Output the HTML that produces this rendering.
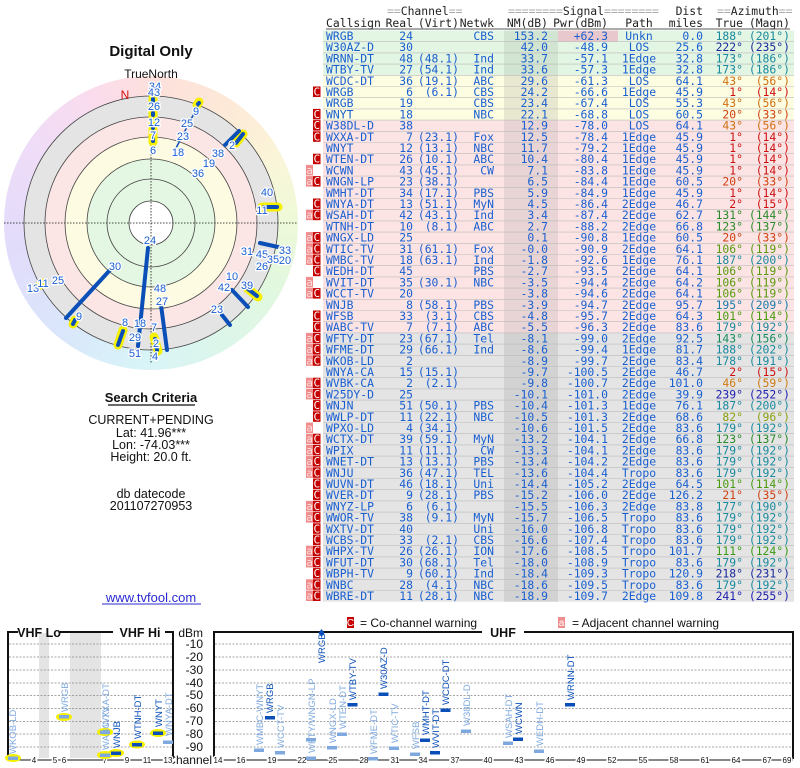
<!DOCTYPE html>
<html><head><meta charset="utf-8"><style>
body{margin:0;background:#fff;width:800px;height:768px;overflow:hidden}
svg{position:absolute;left:0;top:0}
.t{font-family:"DejaVu Sans Mono","Liberation Mono",monospace;font-size:11.4px;fill:#1a5fd0}
.e{text-anchor:end}.m{text-anchor:middle}
.h{font-family:"DejaVu Sans Mono","Liberation Mono",monospace;font-size:11.4px;fill:#222}
.g{fill:#aaa}
.s{font-family:"Liberation Sans",sans-serif}
.pl{font-family:"Liberation Sans",sans-serif;font-size:11px;fill:#1a5fd0;stroke:#fff;stroke-width:2.5px;paint-order:stroke;text-anchor:middle}
.vl{font-family:"Liberation Sans",sans-serif;font-size:9.5px}
.d{fill:#0a4fb8}.l{fill:#7fa9de}
.bd{font-family:"Liberation Sans",sans-serif;font-size:10px;fill:#fff;text-anchor:middle}
.bc{font-family:"DejaVu Sans Mono",monospace;font-size:11px;fill:#fff;text-anchor:middle}
.ba{font-family:"DejaVu Sans Mono",monospace;font-size:11px;fill:#ffe0e0;text-anchor:middle}
</style></head><body>
<div style="position:absolute;left:4px;top:76px;width:294px;height:294px;border-radius:50%;background:conic-gradient(#fde0dc 0deg,#fde8d8 30deg,#fbf4d8 60deg,#f0f9d8 85deg,#e2f8de 115deg,#dcf6ea 150deg,#d8f4f8 185deg,#dae6fb 220deg,#e2dcfb 260deg,#eedcf8 300deg,#fadcee 335deg,#fde0dc 360deg)"></div>
<svg width="800" height="768" viewBox="0 0 800 768">
<text x="151" y="56" class="s m" font-size="15" font-weight="bold" fill="#111">Digital Only</text>
<text x="151" y="78" class="s m" font-size="12" fill="#111">TrueNorth</text>
<g transform="translate(151,223)" stroke="#444" stroke-width="0.8">
<circle r="127" fill="#e4e4e4"/>
<circle r="106" fill="#fbe5e5"/>
<circle r="86" fill="#fdfbe2"/>
<circle r="64" fill="#e4f7e2"/>
<circle r="44" fill="#e4f7e2"/>
<circle r="22" fill="#fff"/>
</g>
<line x1="4" y1="223" x2="298" y2="223" stroke="#111" stroke-width="0.8" stroke-dasharray="1.5,1.5"/>
<line x1="151" y1="82" x2="151" y2="364" stroke="#111" stroke-width="0.8" stroke-dasharray="1.5,1.5"/>
<text x="125" y="99" class="s m" font-size="12" fill="#d01010">N</text>
<g stroke-linecap="round" fill="none">
<g stroke="#f5f000" stroke-width="9">
<line x1="153" y1="98" x2="153" y2="142"/>
<line x1="197" y1="105" x2="199" y2="102"/>
<line x1="236" y1="143" x2="243" y2="134"/>
<line x1="262" y1="207" x2="278" y2="207"/>
<line x1="247" y1="288" x2="258" y2="297"/>
<line x1="118" y1="345" x2="123" y2="330"/>
<line x1="73" y1="324" x2="75" y2="320"/>
<line x1="154" y1="337" x2="158" y2="351"/>
<line x1="40" y1="285" x2="43" y2="283"/>
</g>
<g stroke="#0a4fb8" stroke-width="4">
<line x1="148" y1="248" x2="138" y2="346"/>
<line x1="110" y1="270" x2="66" y2="318"/>
<line x1="161" y1="305" x2="167" y2="350"/>
<line x1="225" y1="145" x2="239" y2="131"/>
<line x1="232" y1="290" x2="248" y2="307"/>
<line x1="222" y1="315" x2="230" y2="325"/>
<line x1="260" y1="243" x2="278" y2="247"/>
<line x1="236" y1="143" x2="243" y2="134"/>
<line x1="264" y1="207" x2="277" y2="207"/>
<line x1="248" y1="289" x2="257" y2="296"/>
<line x1="118" y1="345" x2="123" y2="331"/>
<line x1="73" y1="324" x2="75" y2="320"/>
<line x1="155" y1="339" x2="157" y2="350"/>
<line x1="153" y1="99" x2="153" y2="101"/>
<line x1="153" y1="113" x2="153" y2="115"/>
<line x1="153" y1="126" x2="153" y2="128"/>
<line x1="153" y1="139" x2="153" y2="141"/>
<line x1="198" y1="104" x2="199" y2="103"/>
</g>
<line x1="175" y1="150" x2="199" y2="104" stroke="#0a4fb8" stroke-width="1.5"/>
</g>
<g class="pl">
<text x="155" y="90">34</text><text x="154" y="96">43</text><text x="154" y="110">26</text><text x="154" y="126">12</text><text x="153" y="139">7</text><text x="153" y="154">6</text>
<text x="196" y="115">9</text><text x="187" y="127">25</text><text x="183" y="140">23</text><text x="178" y="156">18</text>
<text x="232" y="149">2</text><text x="218" y="157">38</text><text x="209" y="167">19</text><text x="198" y="177">36</text>
<text x="267" y="196">40</text><text x="262" y="214">11</text>
<text x="150" y="244">24</text><text x="115" y="270">30</text><text x="160" y="292">48</text><text x="162" y="305">27</text>
<text x="140" y="327">18</text><text x="125" y="326">8</text><text x="135" y="341">29</text><text x="135" y="357">51</text>
<text x="154" y="331">7</text><text x="156" y="347">2</text><text x="155" y="360">4</text>
<text x="79" y="320">9</text><text x="33" y="292">13</text><text x="43" y="287">11</text><text x="58" y="284">25</text>
<text x="217" y="313">23</text><text x="224" y="291">42</text><text x="232" y="280">10</text><text x="247" y="289">39</text>
<text x="262" y="270">26</text><text x="247" y="255">31</text><text x="262" y="258">45</text><text x="273" y="263">35</text><text x="285" y="264">20</text><text x="285" y="254">33</text>
</g>
<text x="151" y="402" class="s m" font-size="13" font-weight="bold" fill="#111">Search Criteria</text>
<line x1="108" y1="405" x2="195" y2="405" stroke="#111" stroke-width="1.2"/>
<g class="s" font-size="12.5" fill="#111" text-anchor="middle">
<text x="151" y="424">CURRENT+PENDING</text>
<text x="151" y="437">Lat: 41.96***</text>
<text x="151" y="449">Lon: -74.03***</text>
<text x="151" y="461">Height: 20.0 ft.</text>
<text x="151" y="498">db datecode</text>
<text x="151" y="510">201107270953</text>
</g>
<text x="151" y="602" class="s m" font-size="13" fill="#2a2ad0">www.tvfool.com</text>
<line x1="102" y1="604" x2="201" y2="604" stroke="#2a2ad0" stroke-width="1"/>

<rect x="323" y="30.5" width="471" height="44.8" fill="#e3f5e3"/>
<rect x="323" y="75.3" width="471" height="44.8" fill="#fdfde2"/>
<rect x="323" y="120.1" width="471" height="212.8" fill="#fce4e4"/>
<rect x="323" y="332.9" width="471" height="268.8" fill="#e4e4e4"/>
<rect x="504" y="30.5" width="54" height="44.8" fill="#d2e4d2"/>
<rect x="504" y="75.3" width="54" height="44.8" fill="#e8e8d0"/>
<rect x="504" y="120.1" width="54" height="212.8" fill="#e8d4d4"/>
<rect x="504" y="332.9" width="54" height="268.8" fill="#d2d2d2"/>
<rect x="558" y="30.5" width="60" height="11.2" fill="#e8c8cc"/>
<g stroke="#bbb" stroke-width="0.6">
<path d="M323 41.7H794M323 52.9H794M323 64.1H794M323 75.3H794M323 86.5H794M323 97.7H794M323 108.9H794M323 120.1H794M323 131.3H794M323 142.5H794M323 153.7H794M323 164.9H794M323 176.1H794M323 187.3H794M323 198.5H794M323 209.7H794M323 220.9H794M323 232.1H794M323 243.3H794M323 254.5H794M323 265.7H794M323 276.9H794M323 288.1H794M323 299.3H794M323 310.5H794M323 321.7H794M323 332.9H794M323 344.1H794M323 355.3H794M323 366.5H794M323 377.7H794M323 388.9H794M323 400.1H794M323 411.3H794M323 422.5H794M323 433.7H794M323 444.9H794M323 456.1H794M323 467.3H794M323 478.5H794M323 489.7H794M323 500.9H794M323 512.1H794M323 523.3H794M323 534.5H794M323 545.7H794M323 556.9H794M323 568.1H794M323 579.3H794M323 590.5H794"/>
</g>
<g fill="#c40000">
<rect x="313" y="86.5" width="7.5" height="10.5"/><rect x="313" y="108.9" width="7.5" height="10.5"/><rect x="313" y="120.1" width="7.5" height="10.5"/><rect x="313" y="131.3" width="7.5" height="10.5"/><rect x="313" y="153.7" width="7.5" height="10.5"/><rect x="313" y="176.1" width="7.5" height="10.5"/><rect x="313" y="198.5" width="7.5" height="10.5"/><rect x="313" y="209.7" width="7.5" height="10.5"/><rect x="313" y="232.1" width="7.5" height="10.5"/><rect x="313" y="243.3" width="7.5" height="10.5"/><rect x="313" y="254.5" width="7.5" height="10.5"/><rect x="313" y="265.7" width="7.5" height="10.5"/><rect x="313" y="288.1" width="7.5" height="10.5"/><rect x="313" y="310.5" width="7.5" height="10.5"/><rect x="313" y="321.7" width="7.5" height="10.5"/><rect x="313" y="332.9" width="7.5" height="10.5"/><rect x="313" y="344.1" width="7.5" height="10.5"/><rect x="313" y="355.3" width="7.5" height="10.5"/><rect x="313" y="377.7" width="7.5" height="10.5"/><rect x="313" y="388.9" width="7.5" height="10.5"/><rect x="313" y="400.1" width="7.5" height="10.5"/><rect x="313" y="411.3" width="7.5" height="10.5"/><rect x="313" y="433.7" width="7.5" height="10.5"/><rect x="313" y="444.9" width="7.5" height="10.5"/><rect x="313" y="456.1" width="7.5" height="10.5"/><rect x="313" y="467.3" width="7.5" height="10.5"/><rect x="313" y="478.5" width="7.5" height="10.5"/><rect x="313" y="489.7" width="7.5" height="10.5"/><rect x="313" y="500.9" width="7.5" height="10.5"/><rect x="313" y="512.1" width="7.5" height="10.5"/><rect x="313" y="523.3" width="7.5" height="10.5"/><rect x="313" y="534.5" width="7.5" height="10.5"/><rect x="313" y="545.7" width="7.5" height="10.5"/><rect x="313" y="556.9" width="7.5" height="10.5"/><rect x="313" y="568.1" width="7.5" height="10.5"/><rect x="313" y="579.3" width="7.5" height="10.5"/><rect x="313" y="590.5" width="7.5" height="10.5"/>
</g>
<g class="bc">
<text x="316.8" y="95.5">C</text><text x="316.8" y="117.9">C</text><text x="316.8" y="129.1">C</text><text x="316.8" y="140.3">C</text><text x="316.8" y="162.7">C</text><text x="316.8" y="185.1">C</text><text x="316.8" y="207.5">C</text><text x="316.8" y="218.7">C</text><text x="316.8" y="241.1">C</text><text x="316.8" y="252.3">C</text><text x="316.8" y="263.5">C</text><text x="316.8" y="274.7">C</text><text x="316.8" y="297.1">C</text><text x="316.8" y="319.5">C</text><text x="316.8" y="330.7">C</text><text x="316.8" y="341.9">C</text><text x="316.8" y="353.1">C</text><text x="316.8" y="364.3">C</text><text x="316.8" y="386.7">C</text><text x="316.8" y="397.9">C</text><text x="316.8" y="409.1">C</text><text x="316.8" y="420.3">C</text><text x="316.8" y="442.7">C</text><text x="316.8" y="453.9">C</text><text x="316.8" y="465.1">C</text><text x="316.8" y="476.3">C</text><text x="316.8" y="487.5">C</text><text x="316.8" y="498.7">C</text><text x="316.8" y="509.9">C</text><text x="316.8" y="521.1">C</text><text x="316.8" y="532.3">C</text><text x="316.8" y="543.5">C</text><text x="316.8" y="554.7">C</text><text x="316.8" y="565.9">C</text><text x="316.8" y="577.1">C</text><text x="316.8" y="588.3">C</text><text x="316.8" y="599.5">C</text>
</g>
<g fill="#f08c8c">
<rect x="306" y="164.9" width="7" height="10.5"/><rect x="306" y="176.1" width="7" height="10.5"/><rect x="306" y="209.7" width="7" height="10.5"/><rect x="306" y="232.1" width="7" height="10.5"/><rect x="306" y="243.3" width="7" height="10.5"/><rect x="306" y="254.5" width="7" height="10.5"/><rect x="306" y="276.9" width="7" height="10.5"/><rect x="306" y="288.1" width="7" height="10.5"/><rect x="306" y="332.9" width="7" height="10.5"/><rect x="306" y="344.1" width="7" height="10.5"/><rect x="306" y="355.3" width="7" height="10.5"/><rect x="306" y="377.7" width="7" height="10.5"/><rect x="306" y="388.9" width="7" height="10.5"/><rect x="306" y="422.5" width="7" height="10.5"/><rect x="306" y="433.7" width="7" height="10.5"/><rect x="306" y="444.9" width="7" height="10.5"/><rect x="306" y="456.1" width="7" height="10.5"/><rect x="306" y="467.3" width="7" height="10.5"/><rect x="306" y="500.9" width="7" height="10.5"/><rect x="306" y="512.1" width="7" height="10.5"/><rect x="306" y="545.7" width="7" height="10.5"/><rect x="306" y="556.9" width="7" height="10.5"/><rect x="306" y="579.3" width="7" height="10.5"/><rect x="306" y="590.5" width="7" height="10.5"/>
</g>
<g class="ba">
<text x="309.5" y="173.9">a</text><text x="309.5" y="185.1">a</text><text x="309.5" y="218.7">a</text><text x="309.5" y="241.1">a</text><text x="309.5" y="252.3">a</text><text x="309.5" y="263.5">a</text><text x="309.5" y="285.9">a</text><text x="309.5" y="297.1">a</text><text x="309.5" y="341.9">a</text><text x="309.5" y="353.1">a</text><text x="309.5" y="364.3">a</text><text x="309.5" y="386.7">a</text><text x="309.5" y="397.9">a</text><text x="309.5" y="431.5">a</text><text x="309.5" y="442.7">a</text><text x="309.5" y="453.9">a</text><text x="309.5" y="465.1">a</text><text x="309.5" y="476.3">a</text><text x="309.5" y="509.9">a</text><text x="309.5" y="521.1">a</text><text x="309.5" y="554.7">a</text><text x="309.5" y="565.9">a</text><text x="309.5" y="588.3">a</text><text x="309.5" y="599.5">a</text>
</g>

<text class="h" y="15"><tspan x="387"><tspan class="g">==</tspan>Channel<tspan class="g">==</tspan></tspan><tspan x="508"><tspan class="g">========</tspan>Signal<tspan class="g">========</tspan></tspan><tspan x="703" class="e">Dist</tspan><tspan x="717"><tspan class="g">==</tspan>Azimuth<tspan class="g">==</tspan></tspan></text>
<text class="h" y="27"><tspan x="326">Callsign</tspan><tspan x="413" class="e">Real</tspan><tspan x="459" class="e">(Virt)</tspan><tspan x="494" class="e">Netwk</tspan><tspan x="548" class="e">NM(dB)</tspan><tspan x="608" class="e">Pwr(dBm)</tspan><tspan x="639" class="m">Path</tspan><tspan x="703" class="e">miles</tspan><tspan x="743" class="e">True</tspan><tspan x="790" class="e">(Magn)</tspan></text>
<line x1="326" y1="29" x2="790" y2="29" stroke="#222" stroke-width="0.8"/>

<g class="t">
<text y="40"><tspan x="326">WRGB</tspan><tspan x="413" class="e">24</tspan><tspan x="494" class="e">CBS</tspan><tspan x="548" class="e">153.2</tspan><tspan x="608" class="e">+62.3</tspan><tspan x="639" class="m">Unkn</tspan><tspan x="703" class="e">0.0</tspan><tspan x="743" class="e" fill="#1a8a9e">188°</tspan><tspan x="790" class="e" fill="#1a8a9e">(201°)</tspan></text>
<text y="51.2"><tspan x="326">W30AZ-D</tspan><tspan x="413" class="e">30</tspan><tspan x="548" class="e">42.0</tspan><tspan x="608" class="e">-48.9</tspan><tspan x="639" class="m">LOS</tspan><tspan x="703" class="e">25.6</tspan><tspan x="743" class="e" fill="#1a2a9a">222°</tspan><tspan x="790" class="e" fill="#1a2a9a">(235°)</tspan></text>
<text y="62.4"><tspan x="326">WRNN-DT</tspan><tspan x="413" class="e">48</tspan><tspan x="459" class="e">(48.1)</tspan><tspan x="494" class="e">Ind</tspan><tspan x="548" class="e">33.7</tspan><tspan x="608" class="e">-57.1</tspan><tspan x="639" class="m">1Edge</tspan><tspan x="703" class="e">32.8</tspan><tspan x="743" class="e" fill="#1a8a9e">173°</tspan><tspan x="790" class="e" fill="#1a8a9e">(186°)</tspan></text>
<text y="73.6"><tspan x="326">WTBY-TV</tspan><tspan x="413" class="e">27</tspan><tspan x="459" class="e">(54.1)</tspan><tspan x="494" class="e">Ind</tspan><tspan x="548" class="e">33.6</tspan><tspan x="608" class="e">-57.3</tspan><tspan x="639" class="m">1Edge</tspan><tspan x="703" class="e">32.8</tspan><tspan x="743" class="e" fill="#1a8a9e">173°</tspan><tspan x="790" class="e" fill="#1a8a9e">(186°)</tspan></text>
<text y="84.8"><tspan x="326">WCDC-DT</tspan><tspan x="413" class="e">36</tspan><tspan x="459" class="e">(19.1)</tspan><tspan x="494" class="e">ABC</tspan><tspan x="548" class="e">29.6</tspan><tspan x="608" class="e">-61.3</tspan><tspan x="639" class="m">LOS</tspan><tspan x="703" class="e">64.1</tspan><tspan x="743" class="e" fill="#d07010">43°</tspan><tspan x="790" class="e" fill="#d07010">(56°)</tspan></text>
<text y="96"><tspan x="326">WRGB</tspan><tspan x="413" class="e">6</tspan><tspan x="459" class="e">(6.1)</tspan><tspan x="494" class="e">CBS</tspan><tspan x="548" class="e">24.2</tspan><tspan x="608" class="e">-66.6</tspan><tspan x="639" class="m">1Edge</tspan><tspan x="703" class="e">45.9</tspan><tspan x="743" class="e" fill="#cc1010">1°</tspan><tspan x="790" class="e" fill="#cc1010">(14°)</tspan></text>
<text y="107.2"><tspan x="326">WRGB</tspan><tspan x="413" class="e">19</tspan><tspan x="494" class="e">CBS</tspan><tspan x="548" class="e">23.4</tspan><tspan x="608" class="e">-67.4</tspan><tspan x="639" class="m">LOS</tspan><tspan x="703" class="e">55.3</tspan><tspan x="743" class="e" fill="#d07010">43°</tspan><tspan x="790" class="e" fill="#d07010">(56°)</tspan></text>
<text y="118.4"><tspan x="326">WNYT</tspan><tspan x="413" class="e">18</tspan><tspan x="494" class="e">NBC</tspan><tspan x="548" class="e">22.1</tspan><tspan x="608" class="e">-68.8</tspan><tspan x="639" class="m">LOS</tspan><tspan x="703" class="e">60.5</tspan><tspan x="743" class="e" fill="#d04010">20°</tspan><tspan x="790" class="e" fill="#d04010">(33°)</tspan></text>
<text y="129.6"><tspan x="326">W38DL-D</tspan><tspan x="413" class="e">38</tspan><tspan x="548" class="e">12.9</tspan><tspan x="608" class="e">-78.0</tspan><tspan x="639" class="m">LOS</tspan><tspan x="703" class="e">64.1</tspan><tspan x="743" class="e" fill="#d07010">43°</tspan><tspan x="790" class="e" fill="#d07010">(56°)</tspan></text>
<text y="140.8"><tspan x="326">WXXA-DT</tspan><tspan x="413" class="e">7</tspan><tspan x="459" class="e">(23.1)</tspan><tspan x="494" class="e">Fox</tspan><tspan x="548" class="e">12.5</tspan><tspan x="608" class="e">-78.4</tspan><tspan x="639" class="m">1Edge</tspan><tspan x="703" class="e">45.9</tspan><tspan x="743" class="e" fill="#cc1010">1°</tspan><tspan x="790" class="e" fill="#cc1010">(14°)</tspan></text>
<text y="152"><tspan x="326">WNYT</tspan><tspan x="413" class="e">12</tspan><tspan x="459" class="e">(13.1)</tspan><tspan x="494" class="e">NBC</tspan><tspan x="548" class="e">11.7</tspan><tspan x="608" class="e">-79.2</tspan><tspan x="639" class="m">1Edge</tspan><tspan x="703" class="e">45.9</tspan><tspan x="743" class="e" fill="#cc1010">1°</tspan><tspan x="790" class="e" fill="#cc1010">(14°)</tspan></text>
<text y="163.2"><tspan x="326">WTEN-DT</tspan><tspan x="413" class="e">26</tspan><tspan x="459" class="e">(10.1)</tspan><tspan x="494" class="e">ABC</tspan><tspan x="548" class="e">10.4</tspan><tspan x="608" class="e">-80.4</tspan><tspan x="639" class="m">1Edge</tspan><tspan x="703" class="e">45.9</tspan><tspan x="743" class="e" fill="#cc1010">1°</tspan><tspan x="790" class="e" fill="#cc1010">(14°)</tspan></text>
<text y="174.4"><tspan x="326">WCWN</tspan><tspan x="413" class="e">43</tspan><tspan x="459" class="e">(45.1)</tspan><tspan x="494" class="e">CW</tspan><tspan x="548" class="e">7.1</tspan><tspan x="608" class="e">-83.8</tspan><tspan x="639" class="m">1Edge</tspan><tspan x="703" class="e">45.9</tspan><tspan x="743" class="e" fill="#cc1010">1°</tspan><tspan x="790" class="e" fill="#cc1010">(14°)</tspan></text>
<text y="185.6"><tspan x="326">WNGN-LP</tspan><tspan x="413" class="e">23</tspan><tspan x="459" class="e">(38.1)</tspan><tspan x="548" class="e">6.5</tspan><tspan x="608" class="e">-84.4</tspan><tspan x="639" class="m">1Edge</tspan><tspan x="703" class="e">60.5</tspan><tspan x="743" class="e" fill="#d04010">20°</tspan><tspan x="790" class="e" fill="#d04010">(33°)</tspan></text>
<text y="196.8"><tspan x="326">WMHT-DT</tspan><tspan x="413" class="e">34</tspan><tspan x="459" class="e">(17.1)</tspan><tspan x="494" class="e">PBS</tspan><tspan x="548" class="e">5.9</tspan><tspan x="608" class="e">-84.9</tspan><tspan x="639" class="m">1Edge</tspan><tspan x="703" class="e">45.9</tspan><tspan x="743" class="e" fill="#cc1010">1°</tspan><tspan x="790" class="e" fill="#cc1010">(14°)</tspan></text>
<text y="208"><tspan x="326">WNYA-DT</tspan><tspan x="413" class="e">13</tspan><tspan x="459" class="e">(51.1)</tspan><tspan x="494" class="e">MyN</tspan><tspan x="548" class="e">4.5</tspan><tspan x="608" class="e">-86.4</tspan><tspan x="639" class="m">2Edge</tspan><tspan x="703" class="e">46.7</tspan><tspan x="743" class="e" fill="#cc1010">2°</tspan><tspan x="790" class="e" fill="#cc1010">(15°)</tspan></text>
<text y="219.2"><tspan x="326">WSAH-DT</tspan><tspan x="413" class="e">42</tspan><tspan x="459" class="e">(43.1)</tspan><tspan x="494" class="e">Ind</tspan><tspan x="548" class="e">3.4</tspan><tspan x="608" class="e">-87.4</tspan><tspan x="639" class="m">2Edge</tspan><tspan x="703" class="e">62.7</tspan><tspan x="743" class="e" fill="#2a8a2a">131°</tspan><tspan x="790" class="e" fill="#2a8a2a">(144°)</tspan></text>
<text y="230.4"><tspan x="326">WTNH-DT</tspan><tspan x="413" class="e">10</tspan><tspan x="459" class="e">(8.1)</tspan><tspan x="494" class="e">ABC</tspan><tspan x="548" class="e">2.7</tspan><tspan x="608" class="e">-88.2</tspan><tspan x="639" class="m">2Edge</tspan><tspan x="703" class="e">66.8</tspan><tspan x="743" class="e" fill="#2a8a2a">123°</tspan><tspan x="790" class="e" fill="#2a8a2a">(137°)</tspan></text>
<text y="241.6"><tspan x="326">WNGX-LD</tspan><tspan x="413" class="e">25</tspan><tspan x="548" class="e">0.1</tspan><tspan x="608" class="e">-90.8</tspan><tspan x="639" class="m">1Edge</tspan><tspan x="703" class="e">60.5</tspan><tspan x="743" class="e" fill="#d04010">20°</tspan><tspan x="790" class="e" fill="#d04010">(33°)</tspan></text>
<text y="252.8"><tspan x="326">WTIC-TV</tspan><tspan x="413" class="e">31</tspan><tspan x="459" class="e">(61.1)</tspan><tspan x="494" class="e">Fox</tspan><tspan x="548" class="e">-0.0</tspan><tspan x="608" class="e">-90.9</tspan><tspan x="639" class="m">2Edge</tspan><tspan x="703" class="e">64.1</tspan><tspan x="743" class="e" fill="#5a9a10">106°</tspan><tspan x="790" class="e" fill="#5a9a10">(119°)</tspan></text>
<text y="264"><tspan x="326">WMBC-TV</tspan><tspan x="413" class="e">18</tspan><tspan x="459" class="e">(63.1)</tspan><tspan x="494" class="e">Ind</tspan><tspan x="548" class="e">-1.8</tspan><tspan x="608" class="e">-92.6</tspan><tspan x="639" class="m">1Edge</tspan><tspan x="703" class="e">76.1</tspan><tspan x="743" class="e" fill="#1a8a9e">187°</tspan><tspan x="790" class="e" fill="#1a8a9e">(200°)</tspan></text>
<text y="275.2"><tspan x="326">WEDH-DT</tspan><tspan x="413" class="e">45</tspan><tspan x="494" class="e">PBS</tspan><tspan x="548" class="e">-2.7</tspan><tspan x="608" class="e">-93.5</tspan><tspan x="639" class="m">2Edge</tspan><tspan x="703" class="e">64.1</tspan><tspan x="743" class="e" fill="#5a9a10">106°</tspan><tspan x="790" class="e" fill="#5a9a10">(119°)</tspan></text>
<text y="286.4"><tspan x="326">WVIT-DT</tspan><tspan x="413" class="e">35</tspan><tspan x="459" class="e">(30.1)</tspan><tspan x="494" class="e">NBC</tspan><tspan x="548" class="e">-3.5</tspan><tspan x="608" class="e">-94.4</tspan><tspan x="639" class="m">2Edge</tspan><tspan x="703" class="e">64.2</tspan><tspan x="743" class="e" fill="#5a9a10">106°</tspan><tspan x="790" class="e" fill="#5a9a10">(119°)</tspan></text>
<text y="297.6"><tspan x="326">WCCT-TV</tspan><tspan x="413" class="e">20</tspan><tspan x="548" class="e">-3.8</tspan><tspan x="608" class="e">-94.6</tspan><tspan x="639" class="m">2Edge</tspan><tspan x="703" class="e">64.1</tspan><tspan x="743" class="e" fill="#5a9a10">106°</tspan><tspan x="790" class="e" fill="#5a9a10">(119°)</tspan></text>
<text y="308.8"><tspan x="326">WNJB</tspan><tspan x="413" class="e">8</tspan><tspan x="459" class="e">(58.1)</tspan><tspan x="494" class="e">PBS</tspan><tspan x="548" class="e">-3.9</tspan><tspan x="608" class="e">-94.7</tspan><tspan x="639" class="m">2Edge</tspan><tspan x="703" class="e">95.7</tspan><tspan x="743" class="e" fill="#1a7aa8">195°</tspan><tspan x="790" class="e" fill="#1a7aa8">(209°)</tspan></text>
<text y="320"><tspan x="326">WFSB</tspan><tspan x="413" class="e">33</tspan><tspan x="459" class="e">(3.1)</tspan><tspan x="494" class="e">CBS</tspan><tspan x="548" class="e">-4.8</tspan><tspan x="608" class="e">-95.7</tspan><tspan x="639" class="m">2Edge</tspan><tspan x="703" class="e">64.3</tspan><tspan x="743" class="e" fill="#4a9a10">101°</tspan><tspan x="790" class="e" fill="#4a9a10">(114°)</tspan></text>
<text y="331.2"><tspan x="326">WABC-TV</tspan><tspan x="413" class="e">7</tspan><tspan x="459" class="e">(7.1)</tspan><tspan x="494" class="e">ABC</tspan><tspan x="548" class="e">-5.5</tspan><tspan x="608" class="e">-96.3</tspan><tspan x="639" class="m">2Edge</tspan><tspan x="703" class="e">83.6</tspan><tspan x="743" class="e" fill="#1a8a9e">179°</tspan><tspan x="790" class="e" fill="#1a8a9e">(192°)</tspan></text>
<text y="342.4"><tspan x="326">WFTY-DT</tspan><tspan x="413" class="e">23</tspan><tspan x="459" class="e">(67.1)</tspan><tspan x="494" class="e">Tel</tspan><tspan x="548" class="e">-8.1</tspan><tspan x="608" class="e">-99.0</tspan><tspan x="639" class="m">2Edge</tspan><tspan x="703" class="e">92.5</tspan><tspan x="743" class="e" fill="#1a8a5a">143°</tspan><tspan x="790" class="e" fill="#1a8a5a">(156°)</tspan></text>
<text y="353.6"><tspan x="326">WFME-DT</tspan><tspan x="413" class="e">29</tspan><tspan x="459" class="e">(66.1)</tspan><tspan x="494" class="e">Ind</tspan><tspan x="548" class="e">-8.6</tspan><tspan x="608" class="e">-99.4</tspan><tspan x="639" class="m">1Edge</tspan><tspan x="703" class="e">81.7</tspan><tspan x="743" class="e" fill="#1a8a9e">188°</tspan><tspan x="790" class="e" fill="#1a8a9e">(202°)</tspan></text>
<text y="364.8"><tspan x="326">WKOB-LD</tspan><tspan x="413" class="e">2</tspan><tspan x="548" class="e">-8.9</tspan><tspan x="608" class="e">-99.7</tspan><tspan x="639" class="m">2Edge</tspan><tspan x="703" class="e">83.4</tspan><tspan x="743" class="e" fill="#1a8a9e">178°</tspan><tspan x="790" class="e" fill="#1a8a9e">(191°)</tspan></text>
<text y="376"><tspan x="326">WNYA-CA</tspan><tspan x="413" class="e">15</tspan><tspan x="459" class="e">(15.1)</tspan><tspan x="548" class="e">-9.7</tspan><tspan x="608" class="e">-100.5</tspan><tspan x="639" class="m">2Edge</tspan><tspan x="703" class="e">46.7</tspan><tspan x="743" class="e" fill="#cc1010">2°</tspan><tspan x="790" class="e" fill="#cc1010">(15°)</tspan></text>
<text y="387.2"><tspan x="326">WVBK-CA</tspan><tspan x="413" class="e">2</tspan><tspan x="459" class="e">(2.1)</tspan><tspan x="548" class="e">-9.8</tspan><tspan x="608" class="e">-100.7</tspan><tspan x="639" class="m">2Edge</tspan><tspan x="703" class="e">101.0</tspan><tspan x="743" class="e" fill="#d07a10">46°</tspan><tspan x="790" class="e" fill="#d07a10">(59°)</tspan></text>
<text y="398.4"><tspan x="326">W25DY-D</tspan><tspan x="413" class="e">25</tspan><tspan x="548" class="e">-10.1</tspan><tspan x="608" class="e">-101.0</tspan><tspan x="639" class="m">2Edge</tspan><tspan x="703" class="e">39.9</tspan><tspan x="743" class="e" fill="#2020b0">239°</tspan><tspan x="790" class="e" fill="#2020b0">(252°)</tspan></text>
<text y="409.6"><tspan x="326">WNJN</tspan><tspan x="413" class="e">51</tspan><tspan x="459" class="e">(50.1)</tspan><tspan x="494" class="e">PBS</tspan><tspan x="548" class="e">-10.4</tspan><tspan x="608" class="e">-101.3</tspan><tspan x="639" class="m">1Edge</tspan><tspan x="703" class="e">76.1</tspan><tspan x="743" class="e" fill="#1a8a9e">187°</tspan><tspan x="790" class="e" fill="#1a8a9e">(200°)</tspan></text>
<text y="420.8"><tspan x="326">WWLP-DT</tspan><tspan x="413" class="e">11</tspan><tspan x="459" class="e">(22.1)</tspan><tspan x="494" class="e">NBC</tspan><tspan x="548" class="e">-10.5</tspan><tspan x="608" class="e">-101.3</tspan><tspan x="639" class="m">2Edge</tspan><tspan x="703" class="e">68.6</tspan><tspan x="743" class="e" fill="#8aa010">82°</tspan><tspan x="790" class="e" fill="#8aa010">(96°)</tspan></text>
<text y="432"><tspan x="326">WPXO-LD</tspan><tspan x="413" class="e">4</tspan><tspan x="459" class="e">(34.1)</tspan><tspan x="548" class="e">-10.6</tspan><tspan x="608" class="e">-101.5</tspan><tspan x="639" class="m">2Edge</tspan><tspan x="703" class="e">83.6</tspan><tspan x="743" class="e" fill="#1a8a9e">179°</tspan><tspan x="790" class="e" fill="#1a8a9e">(192°)</tspan></text>
<text y="443.2"><tspan x="326">WCTX-DT</tspan><tspan x="413" class="e">39</tspan><tspan x="459" class="e">(59.1)</tspan><tspan x="494" class="e">MyN</tspan><tspan x="548" class="e">-13.2</tspan><tspan x="608" class="e">-104.1</tspan><tspan x="639" class="m">2Edge</tspan><tspan x="703" class="e">66.8</tspan><tspan x="743" class="e" fill="#2a8a2a">123°</tspan><tspan x="790" class="e" fill="#2a8a2a">(137°)</tspan></text>
<text y="454.4"><tspan x="326">WPIX</tspan><tspan x="413" class="e">11</tspan><tspan x="459" class="e">(11.1)</tspan><tspan x="494" class="e">CW</tspan><tspan x="548" class="e">-13.3</tspan><tspan x="608" class="e">-104.1</tspan><tspan x="639" class="m">2Edge</tspan><tspan x="703" class="e">83.6</tspan><tspan x="743" class="e" fill="#1a8a9e">179°</tspan><tspan x="790" class="e" fill="#1a8a9e">(192°)</tspan></text>
<text y="465.6"><tspan x="326">WNET-DT</tspan><tspan x="413" class="e">13</tspan><tspan x="459" class="e">(13.1)</tspan><tspan x="494" class="e">PBS</tspan><tspan x="548" class="e">-13.4</tspan><tspan x="608" class="e">-104.2</tspan><tspan x="639" class="m">2Edge</tspan><tspan x="703" class="e">83.6</tspan><tspan x="743" class="e" fill="#1a8a9e">179°</tspan><tspan x="790" class="e" fill="#1a8a9e">(192°)</tspan></text>
<text y="476.8"><tspan x="326">WNJU</tspan><tspan x="413" class="e">36</tspan><tspan x="459" class="e">(47.1)</tspan><tspan x="494" class="e">TEL</tspan><tspan x="548" class="e">-13.6</tspan><tspan x="608" class="e">-104.4</tspan><tspan x="639" class="m">Tropo</tspan><tspan x="703" class="e">83.6</tspan><tspan x="743" class="e" fill="#1a8a9e">179°</tspan><tspan x="790" class="e" fill="#1a8a9e">(192°)</tspan></text>
<text y="488"><tspan x="326">WUVN-DT</tspan><tspan x="413" class="e">46</tspan><tspan x="459" class="e">(18.1)</tspan><tspan x="494" class="e">Uni</tspan><tspan x="548" class="e">-14.4</tspan><tspan x="608" class="e">-105.2</tspan><tspan x="639" class="m">2Edge</tspan><tspan x="703" class="e">64.5</tspan><tspan x="743" class="e" fill="#4a9a10">101°</tspan><tspan x="790" class="e" fill="#4a9a10">(114°)</tspan></text>
<text y="499.2"><tspan x="326">WVER-DT</tspan><tspan x="413" class="e">9</tspan><tspan x="459" class="e">(28.1)</tspan><tspan x="494" class="e">PBS</tspan><tspan x="548" class="e">-15.2</tspan><tspan x="608" class="e">-106.0</tspan><tspan x="639" class="m">2Edge</tspan><tspan x="703" class="e">126.2</tspan><tspan x="743" class="e" fill="#d04010">21°</tspan><tspan x="790" class="e" fill="#d04010">(35°)</tspan></text>
<text y="510.4"><tspan x="326">WNYZ-LP</tspan><tspan x="413" class="e">6</tspan><tspan x="459" class="e">(6.1)</tspan><tspan x="548" class="e">-15.5</tspan><tspan x="608" class="e">-106.3</tspan><tspan x="639" class="m">2Edge</tspan><tspan x="703" class="e">83.8</tspan><tspan x="743" class="e" fill="#1a8a9e">177°</tspan><tspan x="790" class="e" fill="#1a8a9e">(190°)</tspan></text>
<text y="521.6"><tspan x="326">WWOR-TV</tspan><tspan x="413" class="e">38</tspan><tspan x="459" class="e">(9.1)</tspan><tspan x="494" class="e">MyN</tspan><tspan x="548" class="e">-15.7</tspan><tspan x="608" class="e">-106.5</tspan><tspan x="639" class="m">Tropo</tspan><tspan x="703" class="e">83.6</tspan><tspan x="743" class="e" fill="#1a8a9e">179°</tspan><tspan x="790" class="e" fill="#1a8a9e">(192°)</tspan></text>
<text y="532.8"><tspan x="326">WXTV-DT</tspan><tspan x="413" class="e">40</tspan><tspan x="494" class="e">Uni</tspan><tspan x="548" class="e">-16.0</tspan><tspan x="608" class="e">-106.8</tspan><tspan x="639" class="m">Tropo</tspan><tspan x="703" class="e">83.6</tspan><tspan x="743" class="e" fill="#1a8a9e">179°</tspan><tspan x="790" class="e" fill="#1a8a9e">(192°)</tspan></text>
<text y="544"><tspan x="326">WCBS-DT</tspan><tspan x="413" class="e">33</tspan><tspan x="459" class="e">(2.1)</tspan><tspan x="494" class="e">CBS</tspan><tspan x="548" class="e">-16.6</tspan><tspan x="608" class="e">-107.4</tspan><tspan x="639" class="m">Tropo</tspan><tspan x="703" class="e">83.6</tspan><tspan x="743" class="e" fill="#1a8a9e">179°</tspan><tspan x="790" class="e" fill="#1a8a9e">(192°)</tspan></text>
<text y="555.2"><tspan x="326">WHPX-TV</tspan><tspan x="413" class="e">26</tspan><tspan x="459" class="e">(26.1)</tspan><tspan x="494" class="e">ION</tspan><tspan x="548" class="e">-17.6</tspan><tspan x="608" class="e">-108.5</tspan><tspan x="639" class="m">Tropo</tspan><tspan x="703" class="e">101.7</tspan><tspan x="743" class="e" fill="#3a9a10">111°</tspan><tspan x="790" class="e" fill="#3a9a10">(124°)</tspan></text>
<text y="566.4"><tspan x="326">WFUT-DT</tspan><tspan x="413" class="e">30</tspan><tspan x="459" class="e">(68.1)</tspan><tspan x="494" class="e">Tel</tspan><tspan x="548" class="e">-18.0</tspan><tspan x="608" class="e">-108.9</tspan><tspan x="639" class="m">Tropo</tspan><tspan x="703" class="e">83.6</tspan><tspan x="743" class="e" fill="#1a8a9e">179°</tspan><tspan x="790" class="e" fill="#1a8a9e">(192°)</tspan></text>
<text y="577.6"><tspan x="326">WBPH-TV</tspan><tspan x="413" class="e">9</tspan><tspan x="459" class="e">(60.1)</tspan><tspan x="494" class="e">Ind</tspan><tspan x="548" class="e">-18.4</tspan><tspan x="608" class="e">-109.3</tspan><tspan x="639" class="m">Tropo</tspan><tspan x="703" class="e">120.9</tspan><tspan x="743" class="e" fill="#1a2a9a">218°</tspan><tspan x="790" class="e" fill="#1a2a9a">(231°)</tspan></text>
<text y="588.8"><tspan x="326">WNBC</tspan><tspan x="413" class="e">28</tspan><tspan x="459" class="e">(4.1)</tspan><tspan x="494" class="e">NBC</tspan><tspan x="548" class="e">-18.6</tspan><tspan x="608" class="e">-109.5</tspan><tspan x="639" class="m">Tropo</tspan><tspan x="703" class="e">83.6</tspan><tspan x="743" class="e" fill="#1a8a9e">179°</tspan><tspan x="790" class="e" fill="#1a8a9e">(192°)</tspan></text>
<text y="600"><tspan x="326">WBRE-DT</tspan><tspan x="413" class="e">11</tspan><tspan x="459" class="e">(28.1)</tspan><tspan x="494" class="e">NBC</tspan><tspan x="548" class="e">-18.9</tspan><tspan x="608" class="e">-109.7</tspan><tspan x="639" class="m">2Edge</tspan><tspan x="703" class="e">109.8</tspan><tspan x="743" class="e" fill="#2020b0">241°</tspan><tspan x="790" class="e" fill="#2020b0">(255°)</tspan></text>
</g>

<rect x="347" y="617" width="7" height="11" fill="#c40000"/><text x="350.5" y="626" class="bd">C</text>
<text x="360" y="627" class="s" font-size="12" fill="#111">= Co-channel warning</text>
<rect x="558" y="617" width="7" height="11" fill="#f08c8c"/><text x="561.5" y="626" class="bd">a</text>
<text x="572" y="627" class="s" font-size="12" fill="#111">= Adjacent channel warning</text>
<rect x="39" y="633" width="10" height="125" fill="#e4e4e4"/>
<rect x="70" y="633" width="31" height="125" fill="#e4e4e4"/>
<g stroke="#888" stroke-width="0.8" stroke-dasharray="2,1.5">
<path d="M9 644H172M9 657H172M9 670H172M9 683H172M9 695.5H172M9 708.5H172M9 721.5H172M9 734H172M9 747H172"/>
<path d="M215 644H792M215 657H792M215 670H792M215 683H792M215 695.5H792M215 708.5H792M215 721.5H792M215 734H792M215 747H792"/>
</g>
<g stroke="#111" stroke-width="2" fill="none">
<path d="M8 759V632H18M60 632H113M165 632H173V759"/>
<path d="M214 759V632H482M524 632H793V759"/>
</g>
<text x="39" y="637" class="s m" font-size="12.5" font-weight="bold" fill="#111">VHF Lo</text>
<text x="140" y="637" class="s m" font-size="12.5" font-weight="bold" fill="#111">VHF Hi</text>
<text x="503" y="637" class="s m" font-size="12.5" font-weight="bold" fill="#111">UHF</text>
<g class="s" font-size="12" fill="#111" text-anchor="end">
<text x="203" y="637">dBm</text><text x="203" y="648">-10</text><text x="203" y="661">-20</text><text x="203" y="674">-30</text><text x="203" y="687">-40</text><text x="203" y="699">-50</text><text x="203" y="712">-60</text><text x="203" y="725">-70</text><text x="203" y="738">-80</text><text x="203" y="751">-90</text>
<text x="212" y="764">Channel</text>
</g>
<line x1="8" y1="760" x2="173" y2="760" stroke="#111" stroke-width="1"/>
<line x1="214" y1="760" x2="793" y2="760" stroke="#111" stroke-width="1"/>
<g class="s" font-size="8" fill="#111" text-anchor="middle" stroke="#fff" stroke-width="3" paint-order="stroke">
<text x="34" y="763">4</text><text x="55" y="763">5</text><text x="64" y="763">6</text><text x="105" y="763">7</text><text x="127" y="763">9</text><text x="147" y="763">11</text><text x="168" y="763">13</text>
<text x="218" y="763">14</text><text x="241" y="763">16</text><text x="272" y="763">19</text><text x="302" y="763">22</text><text x="333" y="763">25</text><text x="364" y="763">28</text><text x="395" y="763">31</text><text x="423" y="763">34</text><text x="455" y="763">37</text><text x="488" y="763">40</text><text x="519" y="763">43</text><text x="550" y="763">46</text><text x="581" y="763">49</text><text x="612" y="763">52</text><text x="643" y="763">55</text><text x="674" y="763">58</text><text x="705" y="763">61</text><text x="736" y="763">64</text><text x="767" y="763">67</text><text x="787" y="763">69</text>
</g>
<g fill="#f5f000">
<ellipse cx="13" cy="758" rx="8" ry="4"/><ellipse cx="64" cy="717" rx="8" ry="4"/><ellipse cx="105" cy="732" rx="8" ry="4"/><ellipse cx="105" cy="755" rx="8" ry="4"/><ellipse cx="116" cy="753" rx="8" ry="4"/><ellipse cx="137" cy="744.5" rx="8" ry="4"/><ellipse cx="158" cy="733" rx="8" ry="4"/>
</g>
<g class="l"><rect x="8" y="756.5" width="10" height="3.5"/><rect x="59" y="715" width="10" height="3.5"/><rect x="100" y="730.5" width="10" height="3.5"/><rect x="100" y="753.5" width="10" height="3.5"/><rect x="163" y="740.5" width="10" height="3.5"/></g>
<g class="d"><rect x="111" y="751.5" width="10" height="3.5"/><rect x="132" y="743" width="10" height="3.5"/><rect x="153" y="731.5" width="10" height="3.5"/></g>
<g class="vl">
<text transform="translate(16,754) rotate(-90)" class="l">WKOB-LD</text>
<text transform="translate(68,712) rotate(-90)" class="l">WRGB</text>
<text transform="translate(109,750) rotate(-90)" class="l">WABC-TV</text>
<text transform="translate(109,727) rotate(-90)" class="l">WXXA-DT</text>
<text transform="translate(120,748) rotate(-90)" class="d">WNJB</text>
<text transform="translate(141,739) rotate(-90)" class="d">WTNH-DT</text>
<text transform="translate(162,727) rotate(-90)" class="d">WNYT</text>
<text transform="translate(172,736) rotate(-90)" class="l">WNYA-DT</text>
</g>
<path d="M321.5 629l3 4-3 4-3-4z" class="d"/>
<g class="d"><rect x="378.5" y="692.5" width="10" height="3.5"/><rect x="565" y="703" width="10" height="3.5"/><rect x="347.5" y="703" width="10" height="3.5"/><rect x="440.5" y="708.5" width="10" height="3.5"/><rect x="265" y="716" width="10" height="3.5"/><rect x="513" y="737.5" width="10" height="3.5"/><rect x="420" y="738.5" width="10" height="3.5"/><rect x="430" y="751" width="10" height="3.5"/></g>
<g class="l"><rect x="461" y="729.5" width="10" height="3.5"/><rect x="337" y="732.5" width="10" height="3.5"/><rect x="306" y="738" width="10" height="3.5"/><rect x="503" y="741.5" width="10" height="3.5"/><rect x="327" y="746" width="10" height="3.5"/><rect x="389" y="746.5" width="10" height="3.5"/><rect x="254" y="748.5" width="10" height="3.5"/><rect x="534" y="749.5" width="10" height="3.5"/><rect x="275" y="751" width="10" height="3.5"/><rect x="410" y="752.5" width="10" height="3.5"/><rect x="306" y="756.5" width="10" height="3.5"/><rect x="368" y="757" width="10" height="3.5"/></g>
<g class="vl">
<text transform="translate(325,663) rotate(-90)" class="d">WRGB</text>
<text transform="translate(387,689) rotate(-90)" class="d">W30AZ-D</text>
<text transform="translate(574,700) rotate(-90)" class="d">WRNN-DT</text>
<text transform="translate(356,700) rotate(-90)" class="d">WTBY-TV</text>
<text transform="translate(449,705) rotate(-90)" class="d">WCDC-DT</text>
<text transform="translate(273,713) rotate(-90)" class="d">WRGB</text>
<text transform="translate(470,726) rotate(-90)" class="l">W38DL-D</text>
<text transform="translate(346,729) rotate(-90)" class="l">WTEN-DT</text>
<text transform="translate(522,734) rotate(-90)" class="d">WCWN</text>
<text transform="translate(429,735) rotate(-90)" class="d">WMHT-DT</text>
<text transform="translate(512,738) rotate(-90)" class="l">WSAH-DT</text>
<text transform="translate(336,743) rotate(-90)" class="l">WNGX-LD</text>
<text transform="translate(398,743) rotate(-90)" class="l">WTIC-TV</text>
<text transform="translate(263,745) rotate(-90)" class="l">WMBC-WNYT</text>
<text transform="translate(543,746) rotate(-90)" class="l">WEDH-DT</text>
<text transform="translate(439,748) rotate(-90)" class="d">WVIT-DT</text>
<text transform="translate(284,748) rotate(-90)" class="l">WCCT-TV</text>
<text transform="translate(419,749) rotate(-90)" class="l">WFSB</text>
<text transform="translate(315,753) rotate(-90)" class="l">WFTY/WNGN-LP</text>
<text transform="translate(377,754) rotate(-90)" class="l">WFME-DT</text>
</g>
</svg>
</body></html>
